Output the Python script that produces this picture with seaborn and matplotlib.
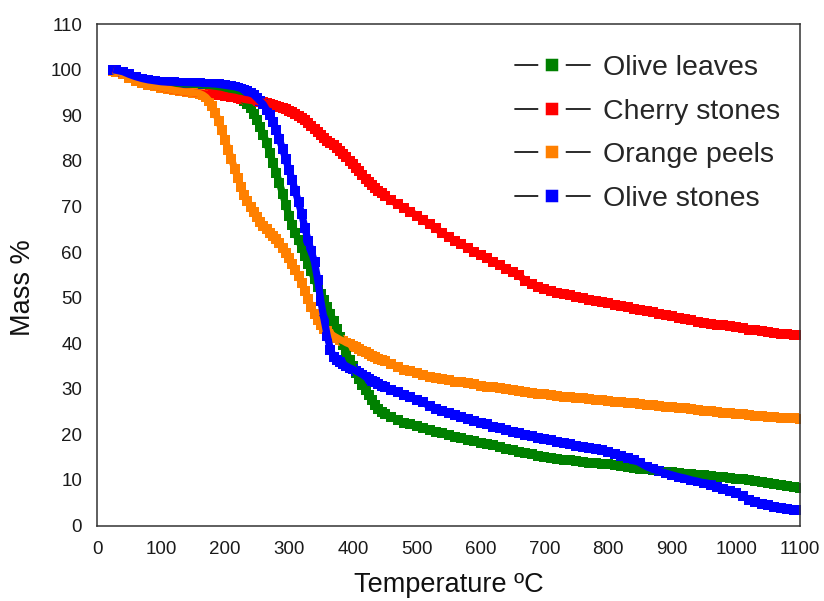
import matplotlib
matplotlib.use("Agg")
import matplotlib.pyplot as plt
from matplotlib.lines import Line2D
from matplotlib.ticker import MultipleLocator
import pandas as pd
import seaborn as sns

# Sampling temperatures (°C), shared by all four TGA runs
temperature = [
    25, 30, 40, 50, 60, 70, 80, 90, 100, 110,
    120, 130, 140, 150, 155, 160, 165, 170, 175, 180,
    185, 190, 195, 200, 205, 210, 215, 220, 225, 230,
    235, 240, 245, 250, 255, 260, 265, 270, 275, 280,
    285, 290, 295, 300, 305, 310, 315, 320, 325, 330,
    335, 340, 345, 350, 355, 360, 365, 370, 375, 380,
    385, 390, 395, 400, 405, 410, 415, 420, 425, 430,
    435, 440, 445, 450, 460, 470, 480, 490, 500, 510,
    520, 530, 540, 550, 560, 570, 580, 590, 600, 610,
    620, 630, 640, 650, 660, 670, 680, 690, 700, 710,
    720, 730, 740, 750, 760, 770, 780, 790, 800, 810,
    820, 830, 840, 850, 860, 870, 880, 890, 900, 910,
    920, 930, 940, 950, 960, 970, 980, 990, 1000, 1010,
    1020, 1030, 1040, 1050, 1060, 1070, 1080, 1090, 1100,
]

# Residual mass (%) for each sample
olive_leaves = [
    99.8, 99.7, 99.3, 98.8, 98.3, 97.9, 97.6, 97.4, 97.2, 97.1,
    97.0, 96.9, 96.9, 96.8, 96.8, 96.7, 96.7, 96.6, 96.6, 96.5,
    96.4, 96.3, 96.2, 96.0, 95.8, 95.5, 95.1, 94.5, 93.9, 93.2,
    92.6, 91.6, 90.4, 89.0, 87.4, 85.8, 84.0, 81.8, 79.6, 77.4,
    75.2, 72.8, 70.4, 68.0, 66.0, 64.2, 62.6, 60.9, 59.2, 57.5,
    55.8, 54.0, 52.3, 50.8, 49.4, 48.0, 46.5, 44.8, 43.1, 41.4,
    39.7, 38.0, 36.3, 34.9, 33.5, 32.2, 30.9, 29.7, 28.6, 27.5,
    26.5, 25.6, 25.0, 24.5, 23.8, 23.1, 22.6, 22.2, 21.9, 21.5,
    21.0, 20.6, 20.2, 19.9, 19.5, 19.1, 18.8, 18.5, 18.2, 17.9,
    17.6, 17.3, 16.9, 16.6, 16.2, 15.9, 15.6, 15.3, 15.0, 14.8,
    14.6, 14.4, 14.3, 14.1, 14.0, 13.8, 13.7, 13.5, 13.4, 13.2,
    13.0, 12.8, 12.6, 12.4, 12.3, 12.1, 11.9, 11.8, 11.7, 11.5,
    11.4, 11.2, 11.1, 11.0, 10.8, 10.7, 10.6, 10.4, 10.3, 10.1,
    9.9, 9.7, 9.5, 9.3, 9.1, 8.9, 8.7, 8.4, 8.2,
]

cherry_stones = [
    100.0, 99.8, 99.2, 98.6, 98.0, 97.4, 96.9, 96.5, 96.1, 95.8,
    95.5, 95.3, 95.1, 95.0, 94.9, 94.9, 94.8, 94.7, 94.7, 94.6,
    94.5, 94.5, 94.4, 94.3, 94.2, 94.1, 94.0, 93.8, 93.7, 93.5,
    93.4, 93.3, 93.2, 93.1, 93.0, 92.9, 92.7, 92.5, 92.3, 92.1,
    91.9, 91.6, 91.3, 91.0, 90.7, 90.3, 89.9, 89.4, 88.9, 88.3,
    87.7, 87.0, 86.3, 85.6, 85.0, 84.4, 83.9, 83.4, 82.9, 82.3,
    81.6, 80.9, 80.1, 79.3, 78.5, 77.7, 76.9, 76.1, 75.4, 74.7,
    74.1, 73.5, 73.0, 72.4, 71.4, 70.5, 69.7, 68.9, 68.0, 67.1,
    66.1, 65.2, 64.2, 63.3, 62.5, 61.7, 60.9, 60.1, 59.3, 58.6,
    57.9, 57.1, 56.4, 55.6, 55.0, 53.6, 53.0, 52.4, 51.9, 51.5,
    51.1, 50.8, 50.5, 50.2, 49.9, 49.6, 49.3, 49.1, 48.8, 48.5,
    48.2, 47.9, 47.6, 47.4, 47.1, 46.8, 46.5, 46.2, 45.9, 45.6,
    45.3, 45.0, 44.7, 44.5, 44.3, 44.1, 43.9, 43.7, 43.5, 43.3,
    43.0, 42.8, 42.6, 42.4, 42.3, 42.1, 42.0, 41.9, 41.8,
]

orange_peels = [
    99.8, 99.6, 99.0, 98.3, 97.6, 97.1, 96.7, 96.4, 96.1, 95.8,
    95.5, 95.3, 95.1, 95.0, 94.9, 94.8, 94.5, 94.0, 93.2, 92.0,
    90.5, 88.7, 86.7, 84.6, 82.5, 80.4, 78.3, 76.3, 74.3, 72.6,
    71.2, 70.0, 68.9, 67.8, 66.7, 65.8, 65.0, 64.3, 63.6, 62.9,
    62.0, 61.0, 59.9, 58.8, 57.5, 56.1, 54.7, 53.2, 51.5, 49.8,
    48.0, 46.4, 45.0, 43.9, 43.2, 42.6, 42.1, 41.6, 41.2, 40.8,
    40.5, 40.1, 39.8, 39.5, 39.1, 38.8, 38.4, 38.0, 37.7, 37.3,
    36.9, 36.6, 36.3, 36.0, 35.4, 34.8, 34.2, 33.8, 33.4, 33.0,
    32.7, 32.4, 32.1, 31.9, 31.6, 31.4, 31.2, 31.0, 30.7, 30.5,
    30.3, 30.1, 29.9, 29.7, 29.5, 29.3, 29.1, 28.9, 28.8, 28.6,
    28.5, 28.3, 28.2, 28.0, 27.9, 27.7, 27.6, 27.5, 27.3, 27.2,
    27.0, 26.9, 26.8, 26.6, 26.5, 26.4, 26.2, 26.1, 26.0, 25.8,
    25.7, 25.5, 25.4, 25.2, 25.1, 24.9, 24.8, 24.7, 24.5, 24.4,
    24.3, 24.1, 24.0, 23.9, 23.8, 23.7, 23.6, 23.5, 23.4,
]

olive_stones = [
    100.0, 99.9, 99.6, 99.0, 98.5, 98.1, 97.8, 97.6, 97.4, 97.3,
    97.3, 97.2, 97.2, 97.1, 97.1, 97.1, 97.0, 97.0, 97.0, 96.9,
    96.9, 96.8, 96.7, 96.6, 96.5, 96.4, 96.3, 96.1, 95.9, 95.6,
    95.3, 94.9, 94.5, 93.8, 93.1, 92.4, 91.2, 90.0, 88.6, 86.8,
    84.8, 82.6, 80.4, 78.1, 75.8, 73.4, 70.9, 68.3, 65.3, 62.5,
    60.2, 57.8, 53.9, 49.2, 45.2, 41.6, 38.6, 37.0, 36.4, 35.9,
    35.4, 35.0, 34.6, 34.3, 33.9, 33.5, 33.1, 32.6, 32.2, 31.8,
    31.4, 31.1, 30.7, 30.4, 29.8, 29.2, 28.6, 28.1, 27.6, 27.0,
    26.2, 25.6, 25.1, 24.6, 24.2, 23.8, 23.4, 23.0, 22.6, 22.2,
    21.7, 21.3, 20.9, 20.6, 20.2, 19.9, 19.6, 19.3, 19.0, 18.7,
    18.4, 18.1, 17.8, 17.5, 17.3, 17.0, 16.8, 16.5, 16.1, 15.7,
    15.3, 14.9, 14.4, 13.7, 12.9, 12.3, 11.9, 11.5, 11.1, 10.7,
    10.4, 10.0, 9.7, 9.3, 8.9, 8.5, 8.0, 7.6, 7.1, 6.4,
    5.7, 5.2, 4.8, 4.4, 4.1, 3.8, 3.6, 3.4, 3.3,
]

sample_names = ["Olive leaves", "Cherry stones", "Orange peels", "Olive stones"]
sample_colors = ["#008000", "#ff0000", "#ff8000", "#0000ff"]
sample_values = [olive_leaves, cherry_stones, orange_peels, olive_stones]

for values in sample_values:
    assert len(values) == len(temperature)

frames = [
    pd.DataFrame({"Temperature": temperature, "Mass": values, "Sample": name})
    for name, values in zip(sample_names, sample_values)
]
tga = pd.concat(frames, ignore_index=True)
palette = dict(zip(sample_names, sample_colors))

sns.set_style("white")
plt.rcParams["font.family"] = ["Liberation Sans", "DejaVu Sans"]

fig = plt.figure(figsize=(8.24, 6.01), dpi=100)
ax = fig.add_axes([0.1181, 0.1256, 0.8528, 0.8340])

# Each run: a thick band in the sample colour, overlaid with square symbols
for name in sample_names:
    run = tga[tga["Sample"] == name]
    sns.lineplot(data=run, x="Temperature", y="Mass", color=palette[name],
                 linewidth=5.2, sort=False, legend=False, ax=ax,
                 solid_capstyle="butt", solid_joinstyle="round")
    sns.scatterplot(data=run, x="Temperature", y="Mass", color=palette[name],
                    marker="s", s=58, linewidth=0, legend=False, ax=ax)

ax.set_xlim(0, 1100)
ax.set_ylim(0, 110)
ax.xaxis.set_major_locator(MultipleLocator(100))
ax.xaxis.set_minor_locator(MultipleLocator(50))
ax.yaxis.set_major_locator(MultipleLocator(10))
ax.yaxis.set_minor_locator(MultipleLocator(5))

axis_color = "#333333"
for side in ["left", "bottom", "top", "right"]:
    ax.spines[side].set_visible(True)
    ax.spines[side].set_color(axis_color)
    ax.spines[side].set_linewidth(1.1)

ax.tick_params(which="major", direction="in", length=7.5, width=1.1,
               color=axis_color, labelsize=13.5, labelcolor="#1a1a1a",
               top=False, right=False, pad=11)
ax.tick_params(which="minor", direction="in", length=3.8, width=1.0,
               color=axis_color, top=False, right=False)

ax.set_xlabel("Temperature ºC", fontsize=19.5, color="#111111")
ax.set_ylabel("Mass %", fontsize=19.5, color="#111111")
ax.xaxis.set_label_coords(0.5, -0.119)
ax.xaxis.label.set_va("center")
ax.yaxis.set_label_coords(-0.106, 0.474)
ax.yaxis.label.set_va("center")

# Origin-style legend: dark line segments with the coloured square in the middle
handles = [
    Line2D([0], [0], color="#1a1a1a", lw=1.3, marker="s", markersize=14.0,
           markerfacecolor=c, markeredgecolor="white", markeredgewidth=5.4)
    for c in sample_colors
]
ax.legend(
    handles, sample_names, loc="upper left",
    bbox_to_anchor=(515 / 824, 1 - 55 / 601), bbox_transform=fig.transFigure,
    frameon=False, fontsize=20.5, handlelength=2.63, handletextpad=0.45,
    labelspacing=0.62, borderpad=0, borderaxespad=0, numpoints=1,
)

fig.savefig("out.png", dpi=100)
